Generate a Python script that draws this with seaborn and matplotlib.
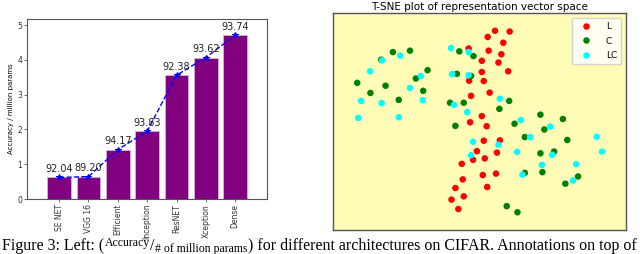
import numpy as np
import pandas as pd
import matplotlib
matplotlib.use("Agg")
import matplotlib.pyplot as plt
import seaborn as sns

# left panel: accuracy per million params
models = ["SE NET", "VGG 16", "Efficient", "Inception", "ResNET", "Xception", "Dense"]
acc_per_mparam = [0.62, 0.645, 1.42, 1.95, 3.56, 4.07, 4.71]
accuracy = ["92.04", "89.20", "94.17", "93.83", "92.38", "93.62", "93.74"]

# right panel: t-SNE points
l_x = [3.2, 6.2, 1.7, 4.9, -2.2, 1.9, 4.5, 0.5, 3.9, 0.5, 5.9, -2.1, 0.9, 2.1, -1.7, 0.5, -1.9,
       1.5, 4.2, 0.9, -0.5, 3.6, -1.3, 1.1, -3.6, 0.7, 3.4, -3.4, 1.6, -4.9, -3.2, -5.7, -4.3]
l_y = [25.1, 24.9, 23.4, 21.8, 20.2, 19.6, 18.6, 16.8, 16.3, 13.7, 13.9, 11.3, 11.2, 8.0, 7.1, 1.5, -0.2,
       -1.3, -5.2, -5.3, -8.2, -8.6, -10.6, -10.2, -11.7, -14.8, -14.4, -16.0, -18.1, -18.4, -20.7, -21.6, -24.2]
c_x = [-17.7, -14.2, -20.1, -4.1, -1.2, -10.6, -13.0, -25.0, -19.2, -4.6, -1.7, -22.3, -11.5, -16.5, -6.0,
       -3.2, 6.1, 4.1, 12.5, 17.1, 7.2, 13.3, -4.9, 9.3, 18.0, 12.5, 15.3, 9.3, 12.9, 20.2, 17.6, 5.6, 7.8]
c_y = [19.2, 19.6, 17.1, 19.4, 18.1, 14.2, 11.9, 10.7, 9.9, 13.2, 12.6, 7.9, 8.5, 6.0, 5.2,
       5.2, 5.7, 3.5, 1.9, 0.7, -0.6, -2.2, -1.2, -4.3, -5.1, -8.8, -8.3, -14.2, -14.0, -15.2, -17.2, -23.4, -25.1]
lc_x = [-5.8, -2.2, -19.9, -16.2, -22.4, -5.6, -2.2, -12.0, -14.2, -24.2, -20.0, -11.6, 4.2, -5.2, -2.5, -24.8,
        -16.5, 8.5, 14.5, -1.3, 3.9, 10.4, 24.0, -1.7, 7.7, 14.9, 25.1, 12.8, 19.8, 8.8, 19.2]
lc_y = [20.3, 19.2, 16.9, 18.2, 13.9, 13.1, 12.8, 12.6, 9.3, 5.7, 5.1, 5.9, 6.3, 4.6, 2.6, 1.0,
        1.2, 0.4, -1.4, -5.6, -6.4, -4.3, -4.2, -9.3, -8.4, -9.2, -8.3, -12.0, -11.8, -14.7, -16.3]

tsne = pd.DataFrame({
    "x": l_x + c_x + lc_x,
    "y": l_y + c_y + lc_y,
    "label": ["L"] * len(l_x) + ["C"] * len(c_x) + ["LC"] * len(lc_x),
})

fig = plt.figure(figsize=(6.4, 2.54), dpi=100)
ax1 = fig.add_axes([0.042, 0.2165, 0.375, 0.709])
ax2 = fig.add_axes([0.520, 0.0945, 0.458, 0.854])

# bars + dashed line through the tops
sns.barplot(x=models, y=acc_per_mparam, color="purple", saturation=1, width=0.8,
            edgecolor="#d9b3d9", linewidth=0.6, ax=ax1)
sns.pointplot(x=models, y=acc_per_mparam, color="blue", linestyles="--", markers="*",
              markersize=4, linewidth=1, ax=ax1)
for i, (v, lab) in enumerate(zip(acc_per_mparam, accuracy)):
    ax1.annotate(lab, (i, v), xytext=(0, 2.5), textcoords="offset points",
                 ha="center", va="bottom", fontsize=7, color="#222222")
ax1.set_xlim(-1.1, 7.08)
ax1.set_ylim(0, 5.18)
ax1.set_yticks([0, 1, 2, 3, 4, 5])
ax1.set_ylabel("Accuracy / million params", fontsize=5, labelpad=2)
ax1.tick_params(axis="both", labelsize=5.5, length=2, width=0.5, pad=1.5, colors="#333333")
ax1.tick_params(axis="x", labelrotation=90)
for s in ax1.spines.values():
    s.set_color("#555555")
    s.set_linewidth(0.8)

# t-SNE scatter
sns.scatterplot(data=tsne, x="x", y="y", hue="label", hue_order=["L", "C", "LC"],
                palette={"L": "red", "C": "green", "LC": "cyan"}, s=22, linewidth=0, ax=ax2)
ax2.set_facecolor("#fffcb8")
ax2.set_xlim(-30, 30)
ax2.set_ylim(-30, 30)
ax2.set_xticks([])
ax2.set_yticks([])
ax2.set_xlabel("")
ax2.set_ylabel("")
ax2.set_title("T-SNE plot of representation vector space", fontsize=7.5, pad=2)
for s in ax2.spines.values():
    s.set_color("#555555")
    s.set_linewidth(1.0)
sns.move_legend(ax2, "upper right", title=None, fontsize=6.5, markerscale=1.0,
                borderpad=0.5, labelspacing=0.6, handletextpad=1.2, frameon=True)

# caption (typeset in pieces so the fraction can be raised/lowered)
serif = "Liberation Serif"
pieces = [
    ("Figure 3: Left: (", 11.5, 0),
    ("Accuracy", 8.5, 4),
    ("/", 11.5, 0),
    ("# of million params", 8.5, -2),
    (") for different architectures on CIFAR. Annotations on top of", 11.5, 0),
]
fig.canvas.draw()
renderer = fig.canvas.get_renderer()
x_px = 2
base_px = 4
for txt, size, dy in pieces:
    t = fig.text(x_px / 640, (base_px + dy) / 254, txt, fontsize=size, family=serif,
                 ha="left", va="baseline", color="black")
    x_px += t.get_window_extent(renderer).width + 0.5

fig.savefig("out.png", dpi=100)
